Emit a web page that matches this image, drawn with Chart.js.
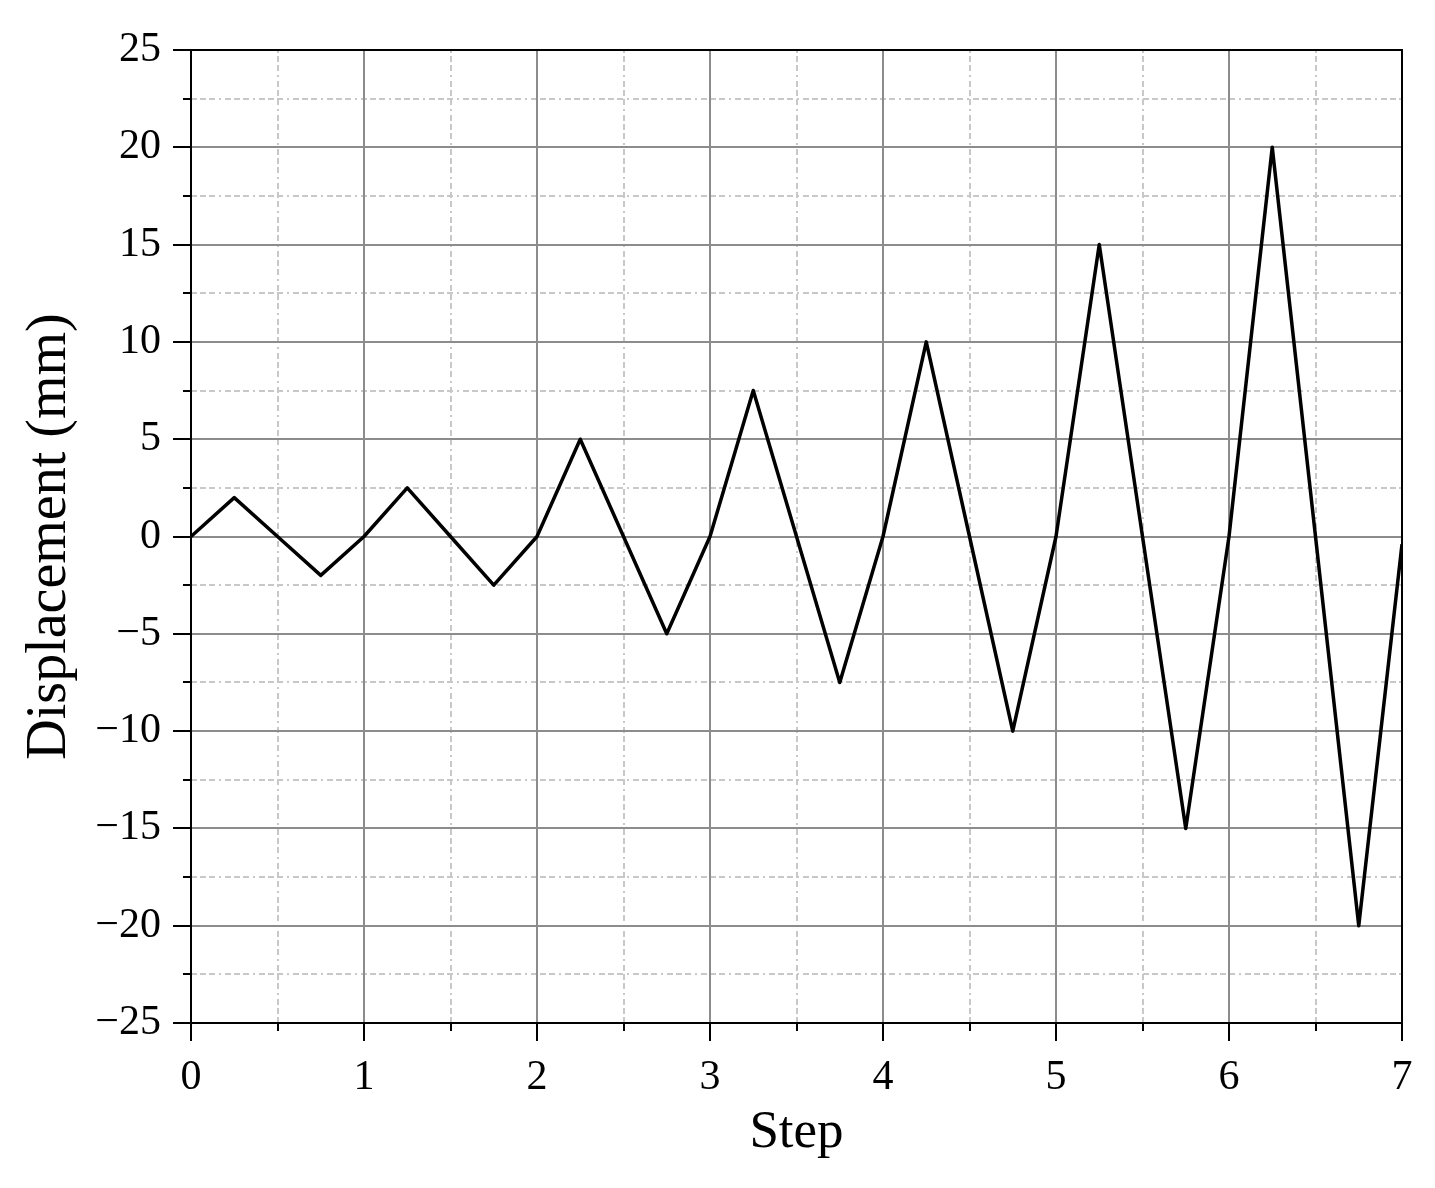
<!DOCTYPE html>
<html>
<head>
<meta charset="utf-8">
<script src="https://cdn.jsdelivr.net/npm/chart.js@4.4.1/dist/chart.umd.min.js"></script>
<style>
  html, body { margin: 0; padding: 0; background: #fff; }
  #wrap { width: 1435px; height: 1188px; }
</style>
</head>
<body>
<div id="wrap"><canvas id="chart" width="1435" height="1188"></canvas></div>
<script>
// loading protocol: step number vs applied displacement
const steps = [0, 0.25, 0.5, 0.75, 1, 1.25, 1.5, 1.75, 2, 2.25, 2.5, 2.75, 3, 3.25, 3.5, 3.75,
               4, 4.25, 4.5, 4.75, 5, 5.25, 5.5, 5.75, 6, 6.25, 6.5, 6.75, 7];
const displacement = [0, 2, 0, -2, 0, 2.5, 0, -2.5, 0, 5, 0, -5, 0, 7.5, 0, -7.5,
                      0, 10, 0, -10, 0, 15, 0, -15, 0, 20, 0, -20, -0.4];

const xTicks = [0, 1, 2, 3, 4, 5, 6, 7];
const yTicks = [-25, -20, -15, -10, -5, 0, 5, 10, 15, 20, 25];
const xMinor = [0.5, 1.5, 2.5, 3.5, 4.5, 5.5, 6.5];
const yMinor = [-22.5, -17.5, -12.5, -7.5, -2.5, 2.5, 7.5, 12.5, 17.5, 22.5];

const SERIF = '"Liberation Serif", "Times New Roman", serif';

// minor dashed grid + short minor ticks (Chart.js has no minor ticks for linear axes)
const minorGrid = {
  id: 'minorGrid',
  beforeDraw(chart) {
    const ctx = chart.ctx;
    const a = chart.chartArea;
    const xs = chart.scales.x, ys = chart.scales.y;
    ctx.save();
    ctx.strokeStyle = '#c8c8c8';
    ctx.lineWidth = 2;
    ctx.setLineDash([6, 3, 6, 3, 6, 4, 2, 4]);
    xMinor.forEach(v => {
      const px = Math.round(xs.getPixelForValue(v));
      ctx.beginPath(); ctx.moveTo(px, a.bottom); ctx.lineTo(px, a.top); ctx.stroke();
    });
    yMinor.forEach(v => {
      const py = Math.round(ys.getPixelForValue(v));
      ctx.beginPath(); ctx.moveTo(a.left, py); ctx.lineTo(a.right, py); ctx.stroke();
    });
    ctx.restore();
  },
  afterDraw(chart) {
    const ctx = chart.ctx;
    const a = chart.chartArea;
    const xs = chart.scales.x, ys = chart.scales.y;
    ctx.save();
    ctx.strokeStyle = '#000';
    ctx.lineWidth = 2;
    xMinor.forEach(v => {
      const px = Math.round(xs.getPixelForValue(v));
      ctx.beginPath(); ctx.moveTo(px, a.bottom); ctx.lineTo(px, a.bottom + 8); ctx.stroke();
    });
    yMinor.forEach(v => {
      const py = Math.round(ys.getPixelForValue(v));
      ctx.beginPath(); ctx.moveTo(a.left, py); ctx.lineTo(a.left - 8, py); ctx.stroke();
    });
    // frame
    ctx.strokeRect(a.left, a.top, a.right - a.left, a.bottom - a.top);
    ctx.restore();
  }
};

new Chart(document.getElementById('chart').getContext('2d'), {
  type: 'line',
  data: {
    datasets: [{
      data: steps.map((s, i) => ({ x: s, y: displacement[i] })),
      borderColor: '#000',
      borderWidth: 3.5,
      borderJoinStyle: 'round',
      pointRadius: 0,
      tension: 0,
      fill: false
    }]
  },
  options: {
    responsive: false,
    animation: false,
    layout: { padding: { top: 50, right: 33, left: 0, bottom: 0 } },
    plugins: { legend: { display: false }, tooltip: { enabled: false } },
    scales: {
      x: {
        type: 'linear',
        min: 0, max: 7,
        afterBuildTicks: s => { s.ticks = xTicks.map(v => ({ value: v })); },
        afterFit: s => { s.height = 165; },
        grid: { color: '#8c8c8c', lineWidth: 2, tickColor: '#000', tickLength: 18, tickWidth: 2 },
        border: { color: '#000', width: 2 },
        ticks: { color: '#000', font: { family: SERIF, size: 42 }, padding: 12, maxRotation: 0 },
        title: { display: true, text: 'Step', color: '#000', font: { family: SERIF, size: 53 }, padding: { top: 4, bottom: 23 } }
      },
      y: {
        min: -25, max: 25,
        afterBuildTicks: s => { s.ticks = yTicks.map(v => ({ value: v })); },
        afterFit: s => { s.width = 191; },
        grid: { color: '#8c8c8c', lineWidth: 2, tickColor: '#000', tickLength: 18, tickWidth: 2 },
        border: { color: '#000', width: 2 },
        ticks: {
          color: '#000', font: { family: SERIF, size: 42 }, padding: 12,
          callback: v => (v < 0 ? '\u2212' + Math.abs(v) : String(v))
        },
        title: { display: true, text: 'Displacement (mm)', color: '#000', font: { family: SERIF, size: 56 }, padding: { top: 17, bottom: 0 } }
      }
    }
  },
  plugins: [minorGrid]
});
</script>
</body>
</html>
